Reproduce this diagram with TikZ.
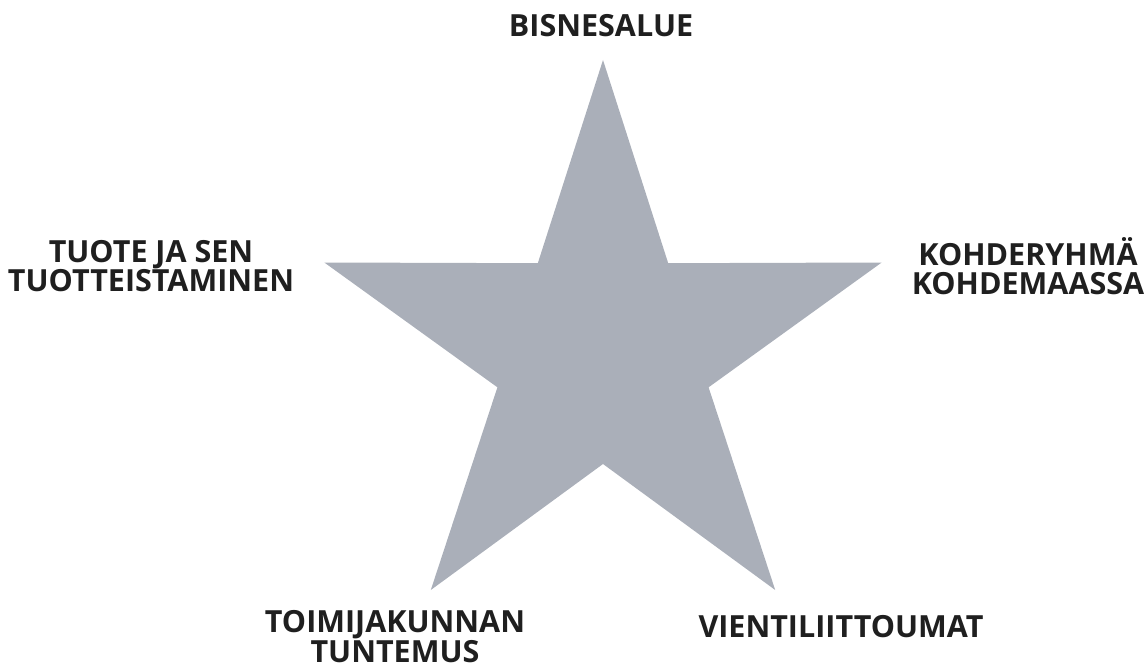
\documentclass[tikz,border=0pt]{standalone}
\usepackage{fontspec}
\setmainfont{Open Sans}
\begin{document}
\begin{tikzpicture}[x=1pt,y=-1pt,
  lbl/.style={font=\fontsize{30.5}{29}\selectfont\bfseries, text=black!88, align=center, inner sep=0pt, anchor=center},
  starfill/.style={fill={rgb,255:red,170;green,175;blue,185}}]
\useasboundingbox (0,0) rectangle (1148,666);
\fill[starfill] (603,60) -- (537.8,263.2) -- (324.3,262.5) -- (497.4,387.3) -- (430.8,590) -- (603,464) -- (775.2,590) -- (708.6,387.3) -- (881.7,262.5) -- (668.2,263.2) -- cycle;
\node[lbl] (top) at (601,26) {BISNESALUE};
\node[lbl] (left) at (151,266) {TUOTE JA SEN\\TUOTTEISTAMINEN};
\node[lbl] (right) at (1028,266.5) {KOHDERYHMÄ\\KOHDEMAASSA};
\node[lbl, font=\fontsize{30.5}{26}\selectfont\bfseries] (bl) at (395,636.5) {TOIMIJAKUNNAN\\TUNTEMUS};
\node[lbl] (br) at (841,627) {VIENTILIITTOUMAT};
\end{tikzpicture}
\end{document}
